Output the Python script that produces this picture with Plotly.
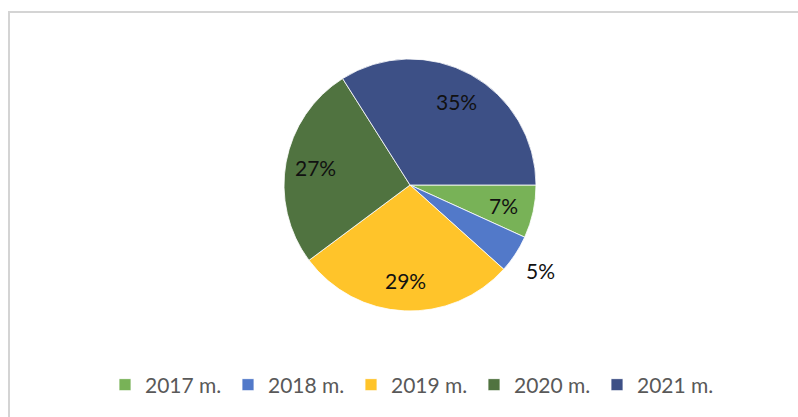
import math
import plotly.graph_objects as go

years = ["2017 m.", "2018 m.", "2019 m.", "2020 m.", "2021 m."]
values = [7, 5, 29, 27, 35]
label_text = ["7%", "5%", "29%", "27%", "35%"]
colors = ["#78B257", "#5279C9", "#FFC42A", "#507340", "#3D5086"]
label_outside = [False, True, False, False, False]

W, H = 798, 417
FONT = "Lato, Carlito, Calibri, sans-serif"

# pie placement (pixels)
cx, cy, R = 410, 185, 126
dom_x = [(cx - R) / W, (cx + R) / W]
dom_y = [1 - (cy + R) / H, 1 - (cy - R) / H]

fig = go.Figure()
fig.add_trace(go.Pie(
    labels=years,
    values=values,
    textinfo="none",
    sort=False,
    direction="clockwise",
    rotation=90,
    marker=dict(colors=colors, line=dict(color="#ffffff", width=0.8)),
    domain=dict(x=dom_x, y=dom_y),
    hoverinfo="label+percent",
))

# data labels placed at the middle angle of each slice (derived from values)
total = sum(values)
annotations = []
start = 0.0  # degrees clockwise from 3 o'clock
for v, t, out in zip(values, label_text, label_outside):
    span = 360.0 * v / total
    mid = math.radians(start + span / 2)
    rf = 1.24 if out else 0.76
    px = cx + R * rf * math.cos(mid)
    py = cy + R * rf * math.sin(mid)
    annotations.append(dict(
        x=px / W, y=1 - py / H, xref="paper", yref="paper",
        text=t, showarrow=False, xanchor="center", yanchor="middle",
        font=dict(family=FONT, size=21, color="#111111"),
    ))
    start += span

fig.update_layout(
    width=W,
    height=H,
    margin=dict(l=0, r=0, t=0, b=0),
    paper_bgcolor="#ffffff",
    plot_bgcolor="#ffffff",
    showlegend=True,
    annotations=annotations,
    legend=dict(
        orientation="h",
        x=105 / W,
        xanchor="left",
        y=1 - 385 / H,
        yanchor="middle",
        font=dict(family=FONT, size=21, color="#595959"),
        traceorder="normal",
        itemwidth=30,
        entrywidth=78,
        bgcolor="rgba(0,0,0,0)",
    ),
    shapes=[
        dict(type="rect", xref="paper", yref="paper",
             x0=9 / W, x1=1.05, y0=-0.05, y1=1 - 12 / H,
             line=dict(color="#D4D4D4", width=2), fillcolor="rgba(0,0,0,0)",
             layer="below"),
    ],
)

fig.write_html(
    "out.html",
    config={"displayModeBar": False},
    post_script="document.body.style.margin='0';document.body.style.overflow='hidden';",
)
